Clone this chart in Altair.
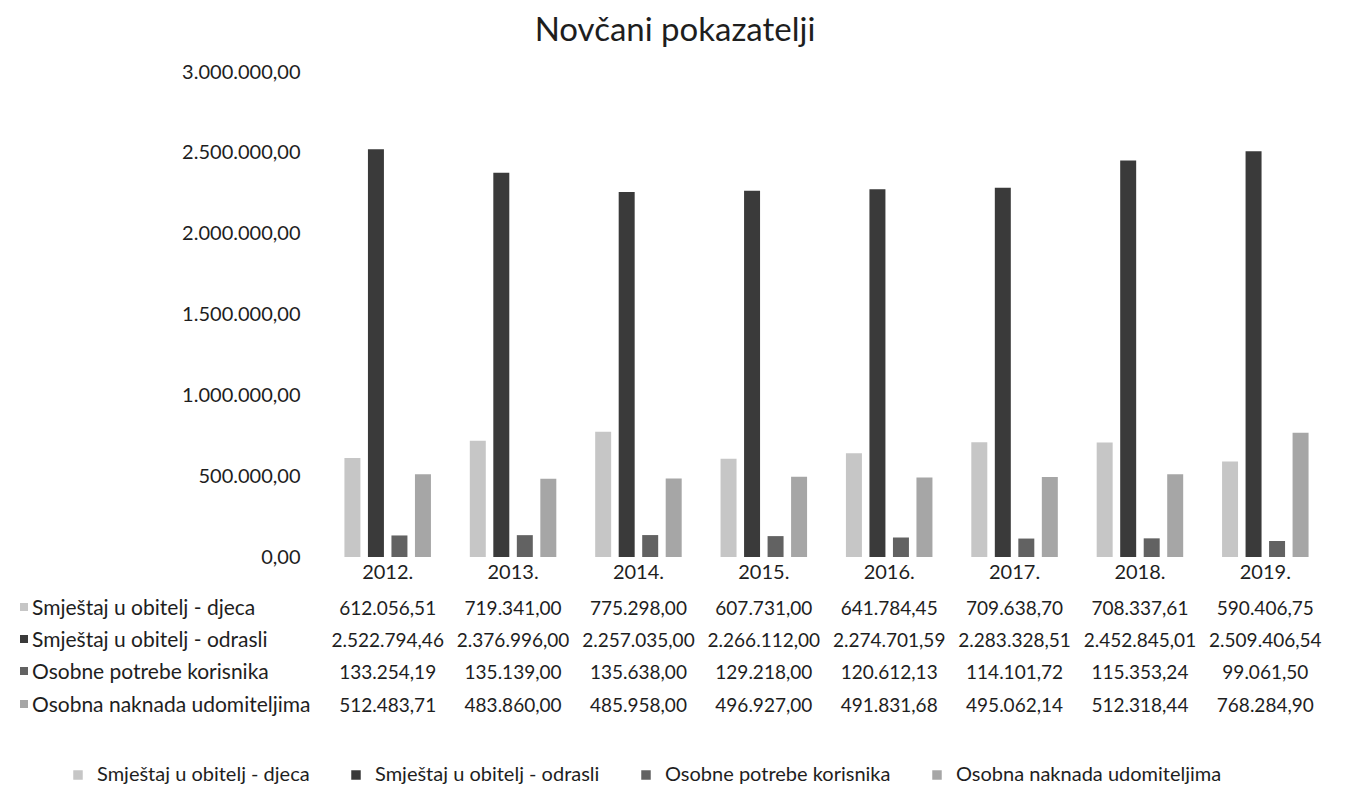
import altair as alt
import pandas as pd

years = ["2012.", "2013.", "2014.", "2015.", "2016.", "2017.", "2018.", "2019."]
series = [
    "Smještaj u obitelj - djeca",
    "Smještaj u obitelj - odrasli",
    "Osobne potrebe korisnika",
    "Osobna naknada udomiteljima",
]
djeca = [612056.51, 719341.00, 775298.00, 607731.00, 641784.45, 709638.70, 708337.61, 590406.75]
odrasli = [2522794.46, 2376996.00, 2257035.00, 2266112.00, 2274701.59, 2283328.51, 2452845.01, 2509406.54]
potrebe = [133254.19, 135139.00, 135638.00, 129218.00, 120612.13, 114101.72, 115353.24, 99061.50]
naknada = [512483.71, 483860.00, 485958.00, 496927.00, 491831.68, 495062.14, 512318.44, 768284.90]
colors = ["#c6c6c6", "#3a3a3a", "#626262", "#a6a6a6"]

FONT = "Lato"
TXT = "#1e1e1e"
values_by_series = [djeca, odrasli, potrebe, naknada]


def hr(v):
    s = f"{v:,.2f}"
    return s.replace(",", "#").replace(".", ",").replace("#", ".")


rows = []
for s, vals in zip(series, values_by_series):
    for y, v in zip(years, vals):
        rows.append({"year": y, "series": s, "value": v, "label": hr(v)})
df = pd.DataFrame(rows)

W, H = 1003, 485

color_scale = alt.Scale(domain=series, range=colors)
xenc = alt.X("year:N", sort=years, scale=alt.Scale(paddingInner=0.31, paddingOuter=0.155),
             axis=alt.Axis(title=None, labelAngle=0, ticks=False, domain=False,
                           labelFontSize=20, labelPadding=5, labelColor=TXT, labelFont=FONT))

bars = alt.Chart(df).mark_bar().encode(
    x=xenc,
    xOffset=alt.XOffset("series:N", sort=series, scale=alt.Scale(paddingInner=0.32, paddingOuter=0)),
    y=alt.Y("value:Q", scale=alt.Scale(domain=[0, 3000000], nice=False),
            axis=alt.Axis(title=None, values=[0, 500000, 1000000, 1500000, 2000000, 2500000, 3000000],
                          labelExpr="replace(replace(replace(format(datum.value, ',.2f'), regexp(',', 'g'), '#'), '.', ','), regexp('#', 'g'), '.')",
                          ticks=False, domain=False, grid=False, labelFontSize=20,
                          labelPadding=25, labelColor=TXT, labelFont=FONT)),
    color=alt.Color("series:N", scale=color_scale,
                    legend=alt.Legend(title=None, orient="none", legendX=-257, legendY=693,
                                      direction="horizontal", columns=4, symbolType="square",
                                      symbolSize=90, labelFontSize=20, labelFont=FONT,
                                      labelColor=TXT, columnPadding=36, labelOffset=9,
                                      labelLimit=0, symbolStrokeWidth=0)),
)

layers = [bars]
row_y = [537, 569, 601, 634]
for s, c, ry in zip(series, colors, row_y):
    sub = df[df.series == s]
    layers.append(
        alt.Chart(sub).mark_text(fontSize=19, font=FONT, color=TXT, baseline="middle").encode(
            x=alt.X("year:N", sort=years), y=alt.value(ry), text="label:N")
    )
    lab = pd.DataFrame({"s": [s]})
    layers.append(
        alt.Chart(lab).mark_text(fontSize=21, font=FONT, color=TXT, align="left", baseline="middle").encode(
            x=alt.value(-293), y=alt.value(ry), text="s:N")
    )
    layers.append(
        alt.Chart(lab).mark_square(size=64, opacity=1).encode(
            x=alt.value(-301), y=alt.value(ry - 2), color=alt.value(c))
    )

title_df = pd.DataFrame({"t": ["Novčani pokazatelji"]})
layers.append(
    alt.Chart(title_df).mark_text(fontSize=33, font=FONT, color=TXT, baseline="middle").encode(
        x=alt.value(350), y=alt.value(-41), text="t:N")
)

chart = alt.layer(*layers).properties(
    width=W, height=H,
    autosize=alt.AutoSizeParams(type="none"),
    padding={"left": 317, "top": 64, "right": 12, "bottom": 235},
).configure_view(stroke=None)

chart.save("out.html", embed_options={"renderer": "svg", "actions": False})
